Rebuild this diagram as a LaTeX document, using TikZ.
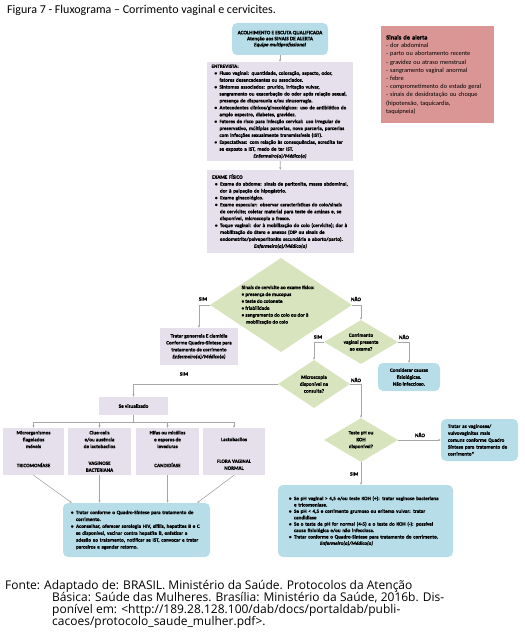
\documentclass[tikz,border=0pt]{standalone}
\usepackage{fontspec}
\setmainfont{Carlito}[BoldFeatures={FakeBold=0.9},BoldItalicFeatures={FakeBold=0.9}]
\newfontfamily\fontefont{Open Sans}
\usetikzlibrary{shapes.geometric,arrows.meta}

\definecolor{caixaazul}{HTML}{B7DEE8}
\definecolor{caixalilas}{HTML}{E5E0EC}
\definecolor{losango}{HTML}{D7E4BD}
\definecolor{alerta}{HTML}{D99694}
\definecolor{linha}{HTML}{A6A6A6}

\newcommand{\bul}{\hspace*{3pt}\makebox[5pt][l]{\textbullet}}
\newcommand{\ind}{\hspace*{8pt}}
\newcommand{\miudo}{\fontsize{5.1}{6.9}\selectfont\bfseries}
\newcommand{\rodape}{\fontefont\fontsize{12}{12.2}\selectfont}

\tikzset{
  caixa/.style={inner sep=0pt, font=\miudo, align=center},
  azul/.style={caixa, fill=caixaazul, rounded corners=5pt},
  lilas/.style={caixa, fill=caixalilas},
  decisao/.style={diamond, fill=losango, inner sep=0pt},
  seta/.style={draw=linha, line width=0.6pt, -{Stealth[length=2.6pt,width=2.2pt]}},
  liga/.style={draw=linha, line width=0.6pt},
  rotulo/.style={font=\miudo, inner sep=0.5pt},
  linhafonte/.style={anchor=base west, inner sep=0pt, font=\rodape}
}

\begin{document}
\begin{tikzpicture}[x=1pt,y=-1pt]
\useasboundingbox (0,0) rectangle (524,636);

% titulo
\node[anchor=base west, inner sep=0pt, font=\fontsize{12}{14}\selectfont] (titulo) at (7,14)
  {Figura 7 - Fluxograma – Corrimento vaginal e cervicites.};

% acolhimento e sinais de alerta
\node[azul, minimum width=96, minimum height=32, font=\fontsize{5.2}{6}\selectfont\bfseries] (acolh) at (280,39)
  {ACOLHIMENTO E ESCUTA QUALIFICADA\\Atenção aos SINAIS DE ALERTA\\\textit{Equipe multiprofissional}};
\node[caixa, fill=alerta, anchor=north west, minimum width=113, minimum height=97, text width=103, align=left,
  font=\fontsize{6.3}{8.2}\selectfont] (alerta) at (381,26)
  {\textbf{Sinais de alerta}\\- dor abdominal\\- parto ou abortamento recente\\- gravidez ou atraso menstrual\\
   - sangramento vaginal anormal\\- febre\\- comprometimento do estado geral\\- sinais de desidratação ou choque\\
   (hipotensão, taquicardia,\\taquipneia)};

% entrevista
\node[lilas, minimum width=146, minimum height=99, text width=137, align=left] (entrev) at (280,111.5)
  {ENTREVISTA:\\
   \bul Fluxo vaginal: quantidade, coloração, aspecto, odor,\\
   \ind fatores desencadeantes ou associados.\\
   \bul Sintomas associados: prurido, irritação vulvar,\\
   \ind sangramento ou exacerbação do odor após relação sexual,\\
   \ind presença de dispareunia e/ou sinusorragia.\\
   \bul Antecedentes clínicos/ginecológicos: uso de antibiótico de\\
   \ind amplo espectro, diabetes, gravidez.\\
   \bul Fatores de risco para infecção cervical: uso irregular de\\
   \ind preservativo, múltiplas parcerias, nova parceria, parcerias\\
   \ind com infecções sexualmente transmissíveis (IST).\\
   \bul Expectativas: com relação às consequências, acredita ter\\
   \ind se exposto a IST, medo de ter IST.\\
   \makebox[\linewidth]{\itshape Enfermeiro(a)/Médico(a)}};

% exame fisico
\node[lilas, minimum width=147, minimum height=83, text width=137, align=left] (exame) at (280.5,211.5)
  {EXAME FÍSICO\\
   \bul Exame do abdome: sinais de peritonite, massa abdominal,\\
   \ind dor à palpação de hipogástrio.\\
   \bul Exame ginecológico.\\
   \bul Exame especular: observar características do colo/sinais\\
   \ind de cervicite; coletar material para teste de aminas e, se\\
   \ind disponível, microscopia a fresco.\\
   \bul Toque vaginal: dor à mobilização do colo (cervicite); dor à\\
   \ind mobilização do útero e anexos (DIP ou sinais de\\
   \ind endometrite/pelveperitonite secundária a aborto/parto).\\
   \makebox[\linewidth]{\itshape Enfermeiro(a)/Médico(a)}};

% decisoes
\node[decisao, minimum width=142, minimum height=94] (d1) at (281,305) {};
\node[rotulo, align=left] (d1t) at ([xshift=-3pt]d1.center)
  {Sinais de cervicite ao exame físico:\\
   \textbullet\ presença de mucopus\\\textbullet\ teste do cotonete\\\textbullet\ friabilidade\\
   \textbullet\ sangramento do colo ou dor à\\\hspace*{4.5pt}mobilização do colo};
\node[decisao, minimum width=74, minimum height=44] (d2) at (361,342) {};
\node[rotulo, align=center] (d2t) at (d2) {Corrimento\\vaginal presente\\ao exame?};
\node[decisao, minimum width=72, minimum height=48] (d3) at (314,384) {};
\node[rotulo, align=center] (d3t) at (d3) {Microscopia\\disponível na\\consulta?};
\node[decisao, minimum width=74, minimum height=44] (d4) at (361,440) {};
\node[rotulo, align=center] (d4t) at (d4) {Teste pH ou\\KOH\\disponível?};

% condutas
\node[lilas, minimum width=78, minimum height=37] (gono) at (199,346.5)
  {Tratar gonorreia E clamídia\\Conforme Quadro-Síntese para\\tratamento de corrimento\\\textit{Enfermeiro(a)/Médico(a)}};
\node[azul, minimum width=62, minimum height=28] (consid) at (409,377)
  {Considerar causas\\fisiológicas.\\Não infeccioso.};
\node[azul, minimum width=77, minimum height=42, text width=63, align=left] (tratR) at (479.5,440)
  {Tratar as vaginoses/\\vulvovaginites mais\\comuns conforme Quadro\\Síntese para tratamento de\\corrimento*};
\node[lilas, minimum width=69, minimum height=18] (sevis) at (133.5,406) {Se visualizado};
\coordinate (split) at (133.5,422);

% achados da microscopia
\node[lilas] (b1) at (33.5,451.5) {\parbox[c][47pt][t]{61pt}{\centering\vspace*{2.8pt}
  Microrganismos\\flagelados\\móveis\\[12.1pt]TRICOMONÍASE}};
\node[lilas] (b2) at (99.5,451.5) {\parbox[c][47pt][t]{63pt}{\centering\vspace*{2.8pt}
  Clue-cells\\e/ou ausência\\de lactobacilos\\[9.8pt]VAGINOSE\\BACTERIANA}};
\node[lilas] (b3) at (167.5,451.5) {\parbox[c][47pt][t]{63pt}{\centering\vspace*{2.8pt}
  Hifas ou micélios\\e esporos de\\leveduras\\[12.1pt]CANDIDÍASE}};
\node[lilas] (b4) at (234,451.5) {\parbox[c][47pt][t]{62pt}{\centering\vspace*{9.6pt}
  Lactobacilos\\[14.8pt]FLORA VAGINAL\\NORMAL}};

\node[azul, minimum width=147, minimum height=54, text width=137, align=left] (tratL) at (136.5,530)
  {\bul Tratar conforme o Quadro-Síntese para tratamento de\\
   \ind corrimento.\\
   \bul Aconselhar, oferecer sorologia HIV, sífilis, hepatites B e C\\
   \ind se disponível, vacinar contra hepatite B, enfatizar a\\
   \ind adesão ao tratamento, notificar se IST, convocar e tratar\\
   \ind parceiros e agendar retorno.};
\node[azul, minimum width=175, minimum height=72, text width=159, align=left,
  font=\fontsize{5.1}{6.4}\selectfont\bfseries] (tratR2) at (365.5,521)
  {\bul Se pH vaginal > 4,5 e/ou teste KOH (+): tratar vaginose bacteriana\\
   \ind e tricomoníase.\\
   \bul Se pH < 4,5 e corrimento grumoso ou eritema vulvar: tratar\\
   \ind candidíase\\
   \bul Se o teste de pH for normal (4-5) e o teste do KOH (-): possível\\
   \ind causa fisiológica e/ou não infecciosa.\\
   \bul Tratar conforme o Quadro-Síntese para tratamento do corrimento.\\
   \hspace*{34pt}\textit{Enfermeiro(a)/Médico(a)}};

% ligacoes
\draw[seta] (acolh) -- (entrev);
\draw[seta] (entrev) -- (exame);
\draw[seta] (d1.west) -| (gono.north);
\draw[seta] (d1.east) -| (d2.north);
\draw[seta] (d2.east) -| (consid.north);
\draw[seta] (d2.west) -| (d3.north);
\draw[seta] (d3.west) -| (sevis.north);
\draw[liga] (sevis) -- (split);
\foreach \b in {b1,b2,b3,b4}
  \draw[seta] (split) -| (\b.north);
\draw[seta] (b1.south) -- ([xshift=9pt]tratL.north west);
\draw[seta] (b2.south) -- (b2.south |- tratL.north);
\draw[seta] (b3.south) -- (b3.south |- tratL.north);
\draw[seta] (b4.south) -- ([xshift=-13pt]tratL.north east);
\draw[seta] (d3.east) -| (d4.north);
\draw[seta] (d4.east) -- (tratR.west);
\draw[seta] (d4.south) -- (d4.south |- tratR2.north);

% rotulos
\node[rotulo] (sim1) at (203,299) {SIM};
\node[rotulo] (nao1) at (356,299) {NÃO};
\node[rotulo] (sim2) at (318,337) {SIM};
\node[rotulo] (nao2) at (404,337) {NÃO};
\node[rotulo] (sim3) at (184,374) {SIM};
\node[rotulo] (nao3) at (356,380) {NÃO};
\node[rotulo] (nao4) at (420,435) {NÃO};
\node[rotulo, anchor=east] (sim4) at (359,474) {SIM};

% fonte
\node[linhafonte] (fonte) at (5,589) {Fonte:};
\node[linhafonte] (ref1) at (44,589) {Adaptado de: BRASIL. Ministério da Saúde. Protocolos da Atenção};
\node[linhafonte] (ref2) at (52,601) {Básica: Saúde das Mulheres. Brasília: Ministério da Saúde, 2016b. Dis-};
\node[linhafonte] (ref3) at (52,613.5) {ponível em: \textless http://189.28.128.100/dab/docs/portaldab/publi-};
\node[linhafonte] (ref4) at (52,625.5) {cacoes/protocolo\_saude\_mulher.pdf\textgreater.};
\end{tikzpicture}
\end{document}
